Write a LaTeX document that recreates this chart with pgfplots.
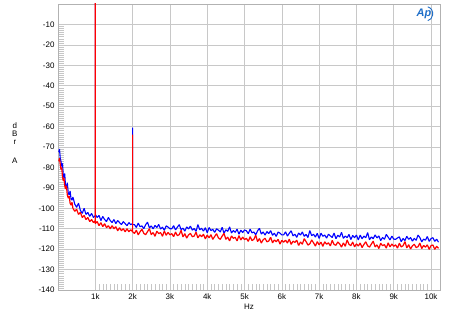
\documentclass[border=0pt]{standalone}
\usepackage{pgfplots}
\pgfplotsset{compat=1.18}
\usepackage{pgfplotstable}
\usepackage{fontspec}
\setmainfont{Liberation Sans}
\definecolor{apblue}{RGB}{30,110,200}
\definecolor{gridgray}{RGB}{200,200,200}

\pgfplotstableread{
x y
20 -72.5
40 -71.0
60 -75.5
80 -77.0
100 -79.5
120 -78.0
140 -83.5
160 -85.0
180 -83.0
200 -88.5
225 -90.0
250 -87.5
275 -92.5
300 -93.5
325 -91.5
350 -95.5
375 -96.0
400 -94.5
450 -98.0
500 -99.5
550 -97.5
600 -101.0
650 -102.5
700 -100.0
750 -103.0
800 -102.0
850 -104.0
900 -102.5
950 -104.5
1000 -103.5
1000 0.5
1000 -103.0
1050 -104.5
1100 -103.5
1150 -106.0
1200 -104.0
1250 -105.5
1300 -106.5
1350 -104.5
1400 -106.0
1450 -107.0
1500 -105.5
1550 -107.5
1600 -106.0
1650 -107.0
1700 -108.0
1750 -106.5
1800 -107.5
1850 -108.5
1900 -107.0
1950 -108.0
2000 -107.5
2000 -60.5
2000 -108.0
2050 -108.0
2100 -109.4
2150 -107.2
2200 -109.0
2250 -108.6
2300 -110.0
2350 -108.0
2400 -106.8
2450 -109.6
2500 -108.6
2550 -110.1
2600 -108.4
2650 -109.4
2700 -107.9
2750 -110.2
2800 -109.2
2850 -110.8
2900 -108.6
2950 -109.2
3000 -110.0
3050 -110.0
3100 -108.5
3150 -110.6
3200 -109.2
3250 -108.0
3300 -110.5
3350 -109.7
3400 -111.2
3450 -109.1
3500 -110.1
3550 -108.7
3600 -110.7
3650 -109.9
3700 -111.3
3750 -108.0
3800 -110.5
3850 -109.8
3900 -111.2
3950 -109.5
4000 -112.0
4050 -109.4
4100 -110.9
4150 -110.3
4200 -111.8
4250 -110.0
4300 -110.7
4350 -111.6
4400 -109.3
4450 -112.2
4500 -110.5
4550 -111.3
4600 -109.1
4650 -112.1
4700 -110.9
4750 -111.8
4800 -110.2
4850 -112.7
4900 -110.7
4950 -111.9
5000 -110.6
5050 -111.0
5100 -112.4
5150 -110.2
5200 -112.0
5250 -111.6
5300 -113.0
5350 -111.0
5400 -109.8
5450 -112.6
5500 -111.6
5550 -113.1
5600 -111.4
5650 -112.4
5700 -110.9
5750 -113.2
5800 -112.2
5850 -113.8
5900 -111.6
5950 -112.2
6000 -113.0
6050 -113.0
6100 -111.5
6150 -113.6
6200 -112.2
6250 -111.0
6300 -113.5
6350 -112.7
6400 -114.2
6450 -112.1
6500 -113.1
6550 -111.6
6600 -113.7
6650 -112.8
6700 -114.3
6750 -110.9
6800 -113.4
6850 -112.7
6900 -114.1
6950 -112.3
7000 -114.8
7050 -112.2
7100 -113.7
7150 -113.1
7200 -114.6
7250 -112.7
7300 -113.5
7350 -114.3
7400 -112.1
7450 -114.9
7500 -113.2
7550 -114.0
7600 -111.8
7650 -114.7
7700 -113.6
7750 -114.4
7800 -112.8
7850 -115.3
7900 -113.3
7950 -114.4
8000 -113.1
8050 -115.5
8100 -113.1
8150 -114.9
8200 -113.6
8250 -114.4
8300 -111.9
8350 -115.4
8400 -114.0
8450 -114.9
8500 -113.0
8550 -114.5
8600 -113.5
8650 -115.8
8700 -114.3
8750 -115.2
8800 -112.8
8850 -114.1
8900 -115.5
8950 -113.6
9000 -115.1
9050 -115.2
9100 -114.5
9150 -114.0
9200 -116.3
9250 -114.8
9300 -115.8
9350 -113.7
9400 -115.2
9450 -114.3
9500 -116.1
9550 -114.7
9600 -115.7
9650 -113.1
9700 -114.3
9750 -116.4
9800 -115.1
9850 -115.6
9900 -113.8
9950 -116.2
10000 -114.8
10050 -114.4
10100 -116.2
10150 -115.1
10200 -116.6
}\blueser

\pgfplotstableread{
x y
20 -77.0
40 -75.5
60 -78.5
80 -81.0
100 -80.0
120 -84.5
140 -86.5
160 -85.0
180 -89.0
200 -90.5
225 -89.0
250 -93.5
275 -95.0
300 -94.0
325 -97.5
350 -98.5
375 -97.0
400 -100.0
450 -101.5
500 -100.5
550 -103.0
600 -102.0
650 -104.5
700 -103.5
750 -105.5
800 -104.5
850 -106.5
900 -105.5
950 -107.0
1000 -106.0
1000 0.5
1000 -107.5
1050 -106.5
1100 -108.5
1150 -107.0
1200 -109.0
1250 -107.5
1300 -109.5
1350 -108.5
1400 -110.0
1450 -108.5
1500 -110.0
1550 -109.0
1600 -111.0
1650 -109.5
1700 -111.0
1750 -110.0
1800 -111.5
1850 -110.0
1900 -111.5
1950 -110.5
2000 -111.5
2000 -64
2000 -111.5
2050 -112.3
2100 -110.7
2150 -113.0
2200 -111.5
2250 -110.2
2300 -112.3
2350 -112.9
2400 -111.4
2450 -110.0
2500 -112.9
2550 -111.9
2600 -113.7
2650 -111.2
2700 -112.4
2750 -111.9
2800 -113.7
2850 -111.1
2900 -113.2
2950 -111.8
3000 -113.0
3050 -112.4
3100 -113.9
3150 -111.6
3200 -113.4
3250 -112.9
3300 -110.8
3350 -114.0
3400 -112.4
3450 -114.6
3500 -113.0
3550 -112.3
3600 -113.9
3650 -113.6
3700 -111.7
3750 -114.5
3800 -113.0
3850 -113.9
3900 -112.7
3950 -115.0
4000 -113.1
4050 -114.5
4100 -112.9
4150 -115.2
4200 -113.8
4250 -112.4
4300 -114.5
4350 -115.2
4400 -113.6
4450 -112.3
4500 -115.2
4550 -114.1
4600 -116.0
4650 -113.5
4700 -114.7
4750 -114.2
4800 -116.0
4850 -113.4
4900 -115.5
4950 -114.1
5000 -115.3
5050 -114.7
5100 -116.2
5150 -113.9
5200 -115.8
5250 -115.2
5300 -113.2
5350 -116.3
5400 -114.8
5450 -117.0
5500 -115.4
5550 -114.7
5600 -116.4
5650 -116.0
5700 -114.2
5750 -116.9
5800 -115.5
5850 -116.4
5900 -115.2
5950 -117.5
6000 -115.7
6050 -116.6
6100 -115.6
6150 -117.0
6200 -115.1
6250 -117.7
6300 -116.1
6350 -116.7
6400 -115.6
6450 -118.2
6500 -116.5
6550 -117.6
6600 -114.9
6650 -116.3
6700 -118.0
6750 -117.4
6800 -115.5
6850 -116.9
6900 -118.5
6950 -116.3
7000 -117.9
7050 -116.6
7100 -118.6
7150 -116.4
7200 -117.6
7250 -116.9
7300 -118.4
7350 -115.7
7400 -117.7
7450 -118.1
7500 -116.5
7550 -117.4
7600 -119.0
7650 -116.9
7700 -118.6
7750 -115.5
7800 -117.6
7850 -118.3
7900 -116.5
7950 -118.9
8000 -117.4
8050 -118.5
8100 -117.0
8150 -119.2
8200 -117.7
8250 -116.4
8300 -118.4
8350 -119.0
8400 -117.5
8450 -116.1
8500 -118.9
8550 -117.9
8600 -119.7
8650 -117.1
8700 -118.3
8750 -117.8
8800 -119.5
8850 -116.9
8900 -118.9
8950 -117.5
9000 -118.6
9050 -117.9
9100 -119.5
9150 -117.1
9200 -118.9
9250 -118.3
9300 -116.3
9350 -119.4
9400 -117.8
9450 -119.9
9500 -118.4
9550 -117.6
9600 -119.2
9650 -118.8
9700 -117.0
9750 -119.7
9800 -118.2
9850 -119.0
9900 -117.9
9950 -120.1
10000 -118.2
10050 -118.0
10100 -120.1
10150 -118.6
10200 -119.6
}\redser

\begin{document}
\begin{tikzpicture}[x=1bp,y=1bp]
\useasboundingbox (-58,-35) rectangle (392,290);
\begin{axis}[
  at={(0,0)}, anchor=south west,
  scale only axis, width=382bp, height=286bp,
  xmin=0, xmax=10240, ymin=-140, ymax=0,
  scaled x ticks=false,
  xtick={1000,2000,3000,4000,5000,6000,7000,8000,9000,10000},
  xticklabels={1k,2k,3k,4k,5k,6k,7k,8k,9k,10k},
  ytick={-140,-130,-120,-110,-100,-90,-80,-70,-60,-50,-40,-30,-20,-10},
  minor x tick num=9, minor y tick num=9,
  tick align=inside, major tick length=0pt, minor tick length=6bp,
  minor tick style={gray!45, line width=0.4pt},
  xtick pos=bottom, ytick pos=left,
  grid=major, major grid style={gridgray, line width=0.6pt},
  axis line style={gray!60, line width=0.8pt},
  ticklabel style={font=\fontsize{8}{9}\selectfont},
  /pgf/number format/assume math mode=true,
  /pgf/number format/1000 sep={},
  xlabel={Hz}, xlabel style={font=\fontsize{8}{9}\selectfont, yshift=2bp},
  ylabel={\begin{tabular}{c}d\\[-1pt]B\\[-1pt]r\\[10pt]A\end{tabular}},
  ylabel style={font=\fontsize{8}{9}\selectfont, rotate=-90, anchor=center, at={(axis description cs:-0.113,0.51)}},
  clip=true,
]
\addplot[blue, line width=1.1pt, line join=bevel] table[x=x,y=y] {\blueser};
\addplot[red, line width=1.2pt, line join=bevel] table[x=x,y=y] {\redser};
\node[font=\bfseries\itshape\fontsize{11}{11}\selectfont, text=apblue, inner sep=0pt] at (rel axis cs:0.958,0.965) {Ap};
\draw[apblue, line width=0.9pt] (rel axis cs:0.968,0.99) arc[start angle=80, end angle=-80, x radius=6bp, y radius=7bp];
\end{axis}
\end{tikzpicture}
\end{document}
